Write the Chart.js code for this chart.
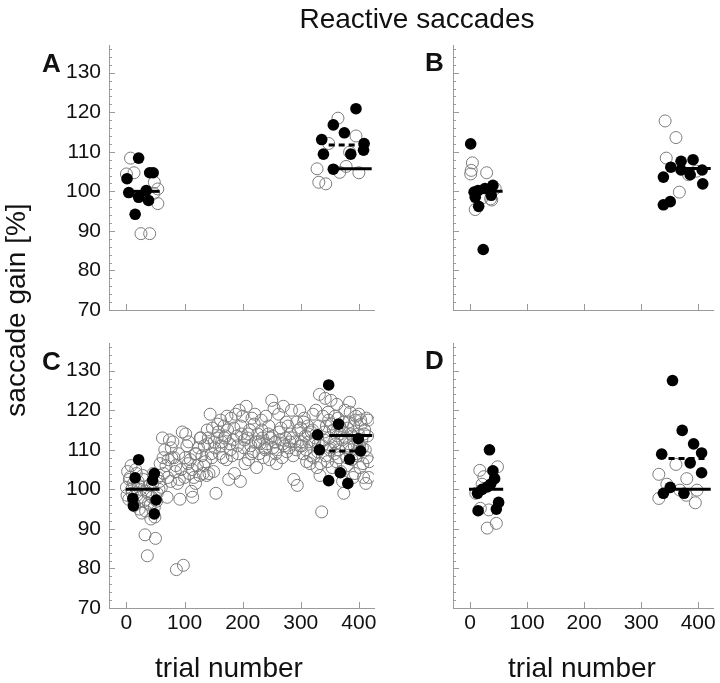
<!DOCTYPE html>
<html><head><meta charset="utf-8">
<script src="https://cdn.jsdelivr.net/npm/chart.js@4/dist/chart.umd.min.js"></script>
<style>
html,body{margin:0;padding:0;background:#fff;}
#wrap{position:relative;width:720px;height:683px;overflow:hidden;font-family:'Liberation Sans',Arial,Helvetica,sans-serif;color:#111;}
canvas{position:absolute;left:0;top:0;}
.t{position:absolute;white-space:nowrap;}
.lab{font-size:28px;line-height:28px;text-align:center;width:300px;height:28px;}
.pl{font-size:26px;line-height:26px;font-weight:bold;}
</style></head><body>
<div id="wrap">
<canvas id="cA" width="720" height="683"></canvas>
<canvas id="cB" width="720" height="683"></canvas>
<canvas id="cC" width="720" height="683"></canvas>
<canvas id="cD" width="720" height="683"></canvas>
<div class="t lab" style="left:267px;top:5px;">Reactive saccades</div>
<div class="t pl" style="left:42px;top:50px;">A</div>
<div class="t pl" style="left:425px;top:49px;">B</div>
<div class="t pl" style="left:42px;top:348px;">C</div>
<div class="t pl" style="left:425px;top:347px;">D</div>
<div class="t lab" style="left:-134px;top:296px;transform:rotate(-90deg);">saccade gain [%]</div>
<div class="t lab" style="left:79px;top:654px;">trial number</div>
<div class="t lab" style="left:432px;top:654px;">trial number</div>
</div>
<script>
// ---- data: [trial number, saccade gain %] ----
const xTickValues = [0, 100, 200, 300, 400];
const yTickLabels = [70, 80, 90, 100, 110, 120, 130];

const aOpen = [[7,108.4],[13,104.7],[0,104.4],[48,102.3],[54,100.6],[47,99.5],[54,96.9],[25,89.3],[40,89.3],
  [364,118.5],[395,114],[348,112.1],[384,109.9],[328,105.7],[378,106.3],[367,104.8],[400,104.7],[331,102.3],[343,101.9]];
const aFilled = [[21,108.4],[1,103.2],[40,104.7],[46,104.7],[4,99.7],[34,100.2],[21,98.5],[38,97.7],[15,94.2],
  [395,120.9],[356,116.8],[375,114.8],[336,113.1],[409,112.1],[408,110.4],[339,109.4],[386,109.4],[356,105.6]];
const aSolid = [[4,57,100],[356,422,105.7]];   // [from trial, to trial, gain]
const aDashed = [[348,408,111.7]];

const bOpen = [[4,107.2],[2,105.3],[1,104.4],[29,104.7],[44,100.7],[36,98.1],[38,97.8],[9,95.4],[21,98.3],
  [342,117.8],[361,113.6],[344,108.4],[383,104.2],[397,105.1],[367,99.8]];
const bFilled = [[1,112],[7,99.8],[14,100.2],[26,100.7],[40,101.5],[9,98.5],[37,99],[15,96.2],[23,85.3],
  [370,107.6],[391,108],[352,106.1],[370,105.4],[407,105.4],[386,104.2],[339,103.6],[408,101.9],[351,97.4],[339,96.6]];
const bSolid = [[1,57,100],[351,422,105.8]];
const bDashed = [[348,413,105.5]];

const cOpen = [
 [0,100.5],[2,104.5],[4,97.5],[6,103],[8,106],[10,99],[12,101.5],[14,96],[16,105],[18,98.5],
 [20,102],[22,95],[24,100],[26,94],[28,103.5],[30,97],[32,88.5],[34,99.5],[36,83.2],[38,96.5],
 [40,101],[42,92.5],[44,98],[46,104],[48,95.5],[50,87.6],[52,97],[54,103],[56,100],[58,106.5],
 [60,100.5],[62,113],[64,104],[66,110],[68,106],[70,98],[72,107.5],[74,112.5],[76,102],[78,108],
 [80,112],[82,108],[84,104.5],[86,79.7],[88,101.5],[90,109],[92,97.5],[94,105],[96,114.5],[98,80.8],
 [100,103],[102,114],[104,111],[106,106.5],[108,104],[110,107.5],[112,99.5],[114,98],[116,103],[118,109],
 [120,109],[122,106],[124,110.5],[126,103.5],[128,113],[130,108.5],[132,104],[134,111],[136,107],[138,103.5],
 [140,111.5],[142,104],[144,119],[146,109],[148,115.5],[150,104.5],[152,110.5],[154,99],[156,113],[158,114.5],
 [160,109],[162,117.5],[164,112],[166,108],[168,116],[170,113.5],[172,107.5],[174,115],[176,102.5],[178,111.5],
 [180,118],[182,108.5],[184,112.5],[186,104],[188,119],[190,113.5],[192,109],[194,120],[196,102],[198,114],
 [200,118.5],[202,110.5],[204,106.5],[206,121],[208,113],[210,107.5],[212,115],[214,111],[216,118],[218,109.5],
 [220,116.5],[222,112],[224,105.5],[226,114],[228,109],[230,111.5],[232,117.5],[234,113],[236,108],[238,110.5],
 [240,118.5],[242,111.5],[244,114],[246,107.5],[248,113],[250,122.5],[252,110.5],[254,120.5],[256,112],[258,106.5],
 [260,110],[262,119],[264,112.5],[266,115.5],[268,108],[270,121],[272,111],[274,113],[276,109.5],[278,116],
 [280,110.5],[282,114],[284,120],[286,113],[288,102.5],[290,112],[292,110],[294,101],[296,115],[298,120],
 [300,115.5],[302,111],[304,109],[306,118],[308,113.5],[310,107],[312,116],[314,112],[316,106.5],[318,114.5],
 [320,115],[322,108],[324,112],[326,120],[328,105.5],[330,111.5],[332,124],[334,106.5],[336,94.3],[338,118.5],
 [340,112.5],[342,123],[344,116],[346,107],[348,117.5],[350,110],[352,122.5],[354,105.5],[356,115],[358,109],
 [360,111.5],[362,121.5],[364,118],[366,108],[368,114],[370,115],[372,102],[374,99],[376,120],[378,110.5],
 [380,106],[382,117],[384,122],[386,114],[388,107.5],[390,103],[392,111],[394,117.5],[396,109],[398,112.5],
 [400,119],[402,105.5],[404,116.5],[406,110.5],[408,103],[410,115],[412,101.5],[414,108],[416,117.5],[418,107],
 [1,98.5],[5,102.5],[9,100],[13,96.5],[17,104],[21,101],[25,98],[29,102.5],[33,94.5],[37,99],[41,96],[45,101.5],[49,93],[53,99],[57,102],
 [63,108],[71,103],[77,110.5],[85,106],[91,102.5],[101,108],[107,112],[113,105],[119,101.5],[127,113],[133,106],[139,115],
 [141,113],[147,108],[151,112],[157,116.5],[163,111],[169,113],[173,118.5],[179,110],[185,115.5],[191,111],[197,116],
 [203,112.5],[209,114],[215,109],[221,119],[227,112],[233,115],[239,110],[245,116],[251,113.5],[257,109],[263,114.5],
 [269,111.5],[275,117],[281,112],[287,108.5],[293,117],[299,111],
 [301,112],[305,117],[309,110],[313,114],[317,108.5],[321,119],[325,113],[329,109.5],[331,116],[333,103.5],[337,111],
 [341,114.5],[343,108.5],[347,119.5],[349,113],[351,110.5],[353,116.5],[357,112],[359,118.5],[361,107],[363,113.5],
 [365,110],[367,116],[369,104.5],[371,112.5],[373,117],[377,113],[379,108],[381,115.5],[383,111.5],[385,119.5],
 [387,110],[389,113.5],[391,116],[393,104],[395,118.5],[397,108.5],[399,114],[401,111],[403,117.5],[405,112.5],
 [407,106.5],[409,114],[411,110],[413,118],[415,113.5],[417,103]
];
const cFilled = [[21,107.5],[15,102.9],[48,104],[45,102.3],[51,97.3],[11,97.7],[12,95.8],[48,93.8],
  [348,126.4],[365,116.5],[329,113.8],[399,112.8],[332,110],[403,109.7],[384,107.6],[368,104.2],[348,102.2],[381,101.5]];
const cSolid = [[-1,57,100],[349,423,113.6]];
const cDashed = [[349,414,109.7]];

const dOpen = [[17,104.8],[48,105.7],[24,103.2],[21,101.3],[10,99],[18,95.2],[33,94.8],[30,90.2],[46,91.4],
  [361,106.3],[331,103.8],[380,102.7],[345,101.3],[368,99.8],[398,99.8],[331,97.7],[379,98.5],[395,96.6]];
const dFilled = [[34,110],[40,104.7],[43,102.7],[36,101.3],[30,100.6],[21,100],[13,99],[50,96.7],[46,95],[14,94.6],
  [355,127.5],[372,114.9],[392,111.5],[406,109.2],[336,108.9],[386,106.7],[406,104.2],[351,100.5],[339,99],[375,99]];
const dSolid = [[-2,58,100],[345,422,100]];
const dDashed = [[348,413,107.8]];

// ---- drawing ----
const FONT = "'Liberation Sans', Arial, Helvetica, sans-serif";
const AXIS = '#9a9a9a';

const inwardTicks = {
  id: 'inwardTicks',
  afterDraw(chart) {
    const ctx = chart.ctx, ca = chart.chartArea;
    const xs = chart.scales.x, ys = chart.scales.y;
    ctx.save();
    ctx.strokeStyle = AXIS; ctx.lineWidth = 1;
    ys.ticks.forEach(t => {
      const p = Math.round(ys.getPixelForValue(t.value)) + 0.5;
      const len = yTickLabels.includes(t.value) ? 6 : 3;
      ctx.beginPath(); ctx.moveTo(ca.left, p); ctx.lineTo(ca.left + len, p); ctx.stroke();
    });
    xs.ticks.forEach(t => {
      const p = Math.round(xs.getPixelForValue(t.value)) + 0.5;
      ctx.beginPath(); ctx.moveTo(p, ca.bottom); ctx.lineTo(p, ca.bottom - 6); ctx.stroke();
    });
    ctx.restore();
  }
};

function toPts(arr) { return arr.map(p => ({x: p[0], y: p[1]})); }

function panel(id, area, open, filled, solid, dashed, showY, showX) {
  const YW = 60, XH = 40;
  const datasets = [];
  solid.forEach(s => datasets.push({data: [{x: s[0], y: s[2]}, {x: s[1], y: s[2]}], showLine: true,
    borderColor: '#000', borderWidth: 3, pointRadius: 0, borderCapStyle: 'butt', order: 0}));
  dashed.forEach(s => datasets.push({data: [{x: s[0], y: s[2]}, {x: s[1], y: s[2]}], showLine: true,
    borderColor: '#000', borderWidth: 3, borderDash: [6, 4], pointRadius: 0, borderCapStyle: 'butt', order: 0}));
  datasets.push({data: toPts(filled), pointRadius: 5.8, pointBackgroundColor: '#000', pointBorderColor: '#000',
    pointBorderWidth: 0, order: 1});
  datasets.push({data: toPts(open), pointRadius: 6, pointBackgroundColor: 'rgba(255,255,255,0)',
    pointBorderColor: '#7c7c7c', pointBorderWidth: 1, order: 2});
  new Chart(document.getElementById(id), {
    type: 'scatter',
    data: {datasets},
    options: {
      responsive: false, animation: false, devicePixelRatio: 1, events: [],
      layout: {padding: {left: area.left - YW, right: 720 - area.right, top: area.top, bottom: 683 - area.bottom - XH}},
      plugins: {legend: {display: false}, tooltip: {enabled: false}},
      scales: {
        x: {
          type: 'linear', min: -30, max: 426,
          afterFit(s) { s.height = XH; s.paddingLeft = 0; s.paddingRight = 0; },
          afterBuildTicks(s) { s.ticks = xTickValues.map(v => ({value: v})); },
          ticks: {display: showX, padding: 3, color: '#111', autoSkip: false, maxRotation: 0,
            font: {family: FONT, size: 21}},
          grid: {display: false, drawTicks: false},
          border: {display: true, color: AXIS, width: 1}
        },
        y: {
          type: 'linear', min: 70, max: 137,
          afterFit(s) { s.width = YW; s.paddingTop = 0; s.paddingBottom = 0; },
          ticks: {display: showY, stepSize: 2, includeBounds: false, autoSkip: false, padding: 8, color: '#111',
            font: {family: FONT, size: 21},
            callback: v => yTickLabels.includes(v) ? String(v) : ''},
          grid: {display: false, drawTicks: false},
          border: {display: true, color: AXIS, width: 1}
        }
      }
    },
    plugins: [inwardTicks]
  });
}

panel('cA', {left: 109, right: 374, top: 45, bottom: 310}, aOpen, aFilled, aSolid, aDashed, true, false);
panel('cB', {left: 453, right: 718, top: 45, bottom: 310}, bOpen, bFilled, bSolid, bDashed, false, false);
panel('cC', {left: 109, right: 374, top: 343, bottom: 608}, cOpen, cFilled, cSolid, cDashed, true, true);
panel('cD', {left: 453, right: 718, top: 343, bottom: 608}, dOpen, dFilled, dSolid, dDashed, false, true);
</script>
</body></html>
